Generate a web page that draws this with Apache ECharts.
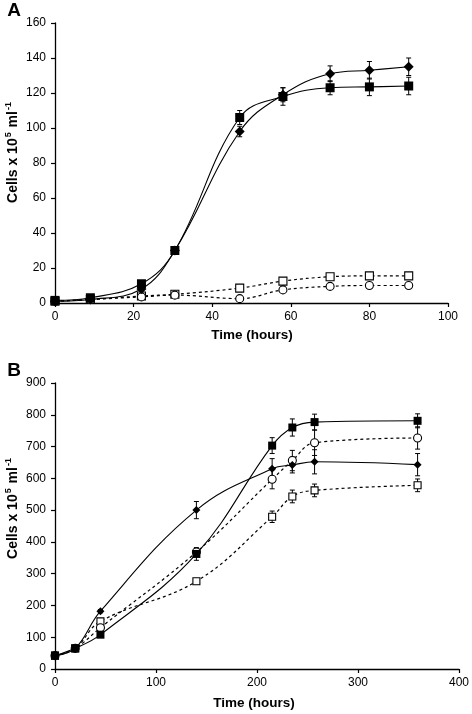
<!DOCTYPE html>
<html>
<head>
<meta charset="utf-8">
<script src="https://cdn.jsdelivr.net/npm/echarts@6/dist/echarts.min.js"></script>
<style>html,body{margin:0;padding:0;background:#fff}#c{width:472px;height:714px}</style>
</head>
<body>
<div id="c"></div>
<script>
// ---- Panel A data ----
var aTime = [0, 9, 22, 30.5, 47, 58, 70, 80, 90];
var aFilledDiamond = [1, 2, 8, 30, 98, 119, 131, 133, 135];
var aFilledDiamondErr = [0, 0.5, 1, 1, 3, 4, 4.5, 5, 5];
var aFilledSquare = [1.5, 3, 11, 30, 106, 118, 123, 123.5, 124];
var aFilledSquareErr = [0, 0.5, 1, 1, 4, 5, 4, 5, 5];
var aOpenSquare = [1, 2, 4, 5, 8.5, 12.5, 15, 15.5, 15.5];
var aOpenCircle = [1, 2, 3.5, 4.5, 2.5, 7.5, 9.5, 10, 10];
var aXTicks = [0, 20, 40, 60, 80, 100];
var aYTicks = [0, 20, 40, 60, 80, 100, 120, 140, 160];

// ---- Panel B data ----
var bTime = [0, 20, 45, 140, 215, 235, 257, 359];
var bFilledDiamond = [42, 65, 182, 500, 630, 642, 652, 643];
var bFilledDiamondErr = [0, 0, 5, 27, 32, 25, 38, 35];
var bFilledSquare = [42, 65, 108, 362, 703, 760, 777, 781];
var bFilledSquareErr = [0, 0, 5, 20, 25, 27, 25, 22];
var bOpenCircle = [42, 65, 130, 368, 597, 656, 712, 727];
var bOpenCircleErr = [0, 0, 5, 10, 30, 32, 40, 35];
var bOpenSquare = [42, 65, 150, 276, 479, 543, 562, 578];
var bOpenSquareErr = [0, 0, 5, 8, 18, 20, 20, 20];
var bXTicks = [0, 100, 200, 300, 400];
var bYTicks = [0, 100, 200, 300, 400, 500, 600, 700, 800, 900];

function pairs(t, v) { return t.map(function (x, i) { return [x, v[i]]; }); }
function errs(t, v, e) { return t.map(function (x, i) { return [x, v[i] - e[i], v[i] + e[i]]; }).filter(function (d, i) { return e[i] > 0; }); }

function errorSeries(idx, data) {
  return {
    type: 'custom', xAxisIndex: idx, yAxisIndex: idx, z: 1, silent: true,
    data: data,
    renderItem: function (params, api) {
      var x = api.value(0);
      var p1 = api.coord([x, api.value(1)]);
      var p2 = api.coord([x, api.value(2)]);
      var w = 2.5;
      var st = { stroke: '#000', lineWidth: 1 };
      return { type: 'group', children: [
        { type: 'line', shape: { x1: p1[0], y1: p1[1], x2: p2[0], y2: p2[1] }, style: st },
        { type: 'line', shape: { x1: p1[0] - w, y1: p1[1], x2: p1[0] + w, y2: p1[1] }, style: st },
        { type: 'line', shape: { x1: p2[0] - w, y1: p2[1], x2: p2[0] + w, y2: p2[1] }, style: st }
      ] };
    }
  };
}

function lineSeries(idx, data, symbol, size, filled, dashed) {
  return {
    type: 'line', xAxisIndex: idx, yAxisIndex: idx, z: 3,
    data: data, smooth: 0.4, symbol: symbol, symbolSize: size,
    showAllSymbol: true,
    lineStyle: { color: '#000', width: dashed ? 1.2 : 1.1, type: dashed ? [3, 3] : 'solid' },
    itemStyle: { color: filled ? '#000' : '#fff', borderColor: '#000', borderWidth: filled ? 0 : 1.1 },
    emphasis: { disabled: true }
  };
}

var font = 'Liberation Sans, Arial, sans-serif';
function xAx(idx, ticks) {
  return {
    gridIndex: idx, type: 'value', min: ticks[0], max: ticks[ticks.length - 1], interval: ticks[1] - ticks[0],
    axisLine: { onZero: false, lineStyle: { color: '#000', width: 1.3 } },
    axisTick: { show: true, length: 4, lineStyle: { color: '#000', width: 1.2 } },
    axisLabel: { color: '#000', fontSize: 12, fontFamily: font, margin: 8 },
    splitLine: { show: false }
  };
}
function yAx(idx, ticks) {
  return {
    gridIndex: idx, type: 'value', min: ticks[0], max: ticks[ticks.length - 1], interval: ticks[1] - ticks[0],
    axisLine: { show: true, onZero: false, lineStyle: { color: '#000', width: 1.3 } },
    axisTick: { show: true, length: 4, lineStyle: { color: '#000', width: 1.2 } },
    axisLabel: { color: '#000', fontSize: 12, fontFamily: font, margin: 9 },
    splitLine: { show: false }
  };
}

var rich = {
  a: { fontSize: 14, fontWeight: 'bold', fontFamily: font, color: '#000' },
  s: { fontSize: 9, fontWeight: 'bold', fontFamily: font, color: '#000', verticalAlign: 'top', padding: [0, 1, 9, 1] }
};
function yTitle(x, y) {
  return { type: 'text', x: x, y: y, rotation: Math.PI / 2,
    style: { text: '{a|Cells x 10}{s|5}{a| ml}{s|-1}', rich: rich, align: 'center', verticalAlign: 'middle' } };
}
function txt(x, y, s, size) {
  return { type: 'text', x: x, y: y,
    style: { text: s, fontSize: size, fontWeight: 'bold', fontFamily: font, fill: '#000', align: 'center', verticalAlign: 'middle' } };
}

var chart = echarts.init(document.getElementById('c'));
chart.setOption({
  animation: false,
  backgroundColor: '#fff',
  grid: [
    { left: 55, top: 23, width: 393, height: 280 },
    { left: 55, top: 383, width: 407, height: 286 }
  ],
  xAxis: [xAx(0, aXTicks), xAx(1, bXTicks)],
  yAxis: [yAx(0, aYTicks), yAx(1, bYTicks)],
  graphic: [
    txt(14, 11, 'A', 19),
    txt(14, 371, 'B', 19),
    yTitle(13, 152),
    yTitle(13, 508),
    txt(252, 335, 'Time (hours)', 13.5),
    txt(254, 703, 'Time (hours)', 13.5)
  ],
  series: [
    errorSeries(0, errs(aTime, aFilledDiamond, aFilledDiamondErr)),
    errorSeries(0, errs(aTime, aFilledSquare, aFilledSquareErr)),
    lineSeries(0, pairs(aTime, aOpenSquare), 'rect', 8, false, true),
    lineSeries(0, pairs(aTime, aOpenCircle), 'circle', 8, false, true),
    lineSeries(0, pairs(aTime, aFilledDiamond), 'diamond', 10, true, false),
    lineSeries(0, pairs(aTime, aFilledSquare), 'rect', 9, true, false),

    errorSeries(1, errs(bTime, bFilledDiamond, bFilledDiamondErr)),
    errorSeries(1, errs(bTime, bFilledSquare, bFilledSquareErr)),
    errorSeries(1, errs(bTime, bOpenCircle, bOpenCircleErr)),
    errorSeries(1, errs(bTime, bOpenSquare, bOpenSquareErr)),
    lineSeries(1, pairs(bTime, bOpenSquare), 'rect', 7, false, true),
    lineSeries(1, pairs(bTime, bOpenCircle), 'circle', 8, false, true),
    lineSeries(1, pairs(bTime, bFilledDiamond), 'diamond', 8, true, false),
    lineSeries(1, pairs(bTime, bFilledSquare), 'rect', 8, true, false)
  ]
});
</script>
</body>
</html>
